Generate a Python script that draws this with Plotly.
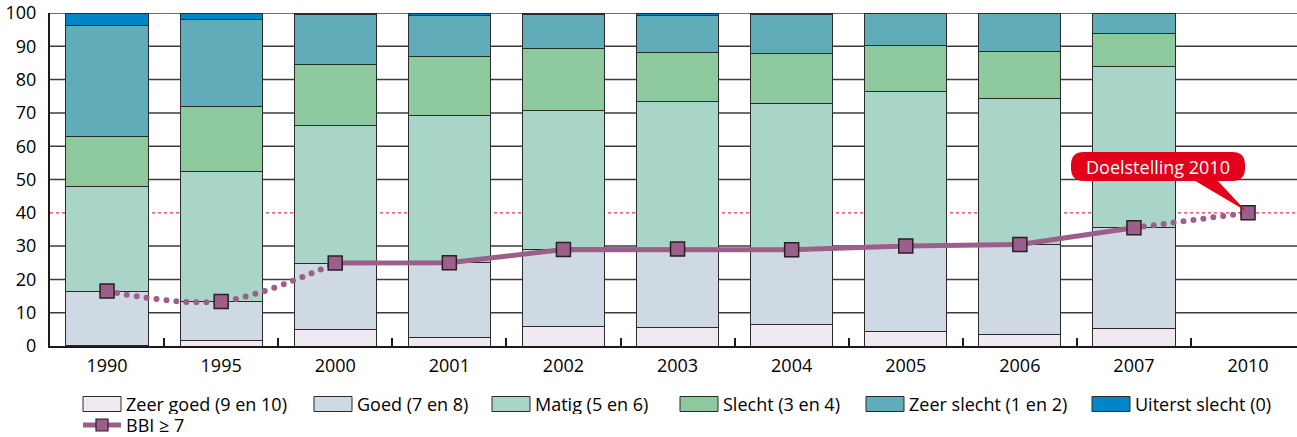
import plotly.graph_objects as go

# ---------------- data ----------------
years = ["1990", "1995", "2000", "2001", "2002", "2003", "2004", "2005", "2006", "2007", "2010"]
zeer_goed = [0.3, 1.7, 4.9, 2.7, 5.8, 5.5, 6.5, 4.4, 3.4, 5.2, None]
goed = [16.2, 11.7, 20.0, 22.3, 23.2, 23.6, 22.3, 25.8, 27.1, 30.3, None]
matig = [31.5, 39.1, 41.4, 44.1, 41.8, 44.2, 44.0, 46.2, 43.8, 48.3, None]
slecht = [14.8, 19.4, 18.1, 17.7, 18.6, 14.9, 15.0, 13.8, 14.1, 9.9, None]
zeer_slecht = [33.3, 26.0, 15.2, 12.4, 10.2, 11.0, 11.9, 9.8, 11.4, 6.3, None]
uiterst_slecht = [3.9, 2.1, 0.4, 0.8, 0.4, 0.8, 0.3, 0.0, 0.2, 0.0, None]
bbi = [16.5, 13.4, 24.9, 25.0, 29.0, 29.1, 28.9, 30.0, 30.5, 35.5, 40.0]
doel_2010 = 40
y_ticks = [0, 10, 20, 30, 40, 50, 60, 70, 80, 90, 100]

series_names = ["Zeer goed (9 en 10)", "Goed (7 en 8)", "Matig (5 en 6)",
                "Slecht (3 en 4)", "Zeer slecht (1 en 2)", "Uiterst slecht (0)"]
series_values = [zeer_goed, goed, matig, slecht, zeer_slecht, uiterst_slecht]
series_colors = ["#f1e9f2", "#cfd9e3", "#a8d5c7", "#8ec99e", "#60adb9", "#0086c6"]
bbi_name = "BBI \u2265 7"
doel_text = "Doelstelling 2010"
bbi_color = "#9b5f8a"
FONT = "Open Sans"

fig = go.Figure()
for name, vals, col in zip(series_names, series_values, series_colors):
    fig.add_trace(go.Bar(x=years, y=vals, name=name, marker_color=col,
                         marker_line=dict(color="#2a2a2a", width=1),
                         width=0.72, showlegend=False))

dot_dash = "0px,10px"
# dotted part 1990-2000
fig.add_trace(go.Scatter(x=years[0:3], y=bbi[0:3], mode="lines",
                         line=dict(color=bbi_color, width=6, dash=dot_dash, shape="spline"),
                         showlegend=False))
# solid part 2000-2007
fig.add_trace(go.Scatter(x=years[2:10], y=bbi[2:10], mode="lines",
                         line=dict(color=bbi_color, width=5),
                         showlegend=False))
# dotted part 2007-2010
fig.add_trace(go.Scatter(x=years[9:11], y=bbi[9:11], mode="lines",
                         line=dict(color=bbi_color, width=6, dash=dot_dash, shape="spline"),
                         showlegend=False))
# markers
fig.add_trace(go.Scatter(x=years, y=bbi, mode="markers", name=bbi_name,
                         marker=dict(symbol="square", size=14, color=bbi_color,
                                     line=dict(color="#2b1f28", width=1.5)),
                         showlegend=False))

# plot-area geometry in pixels
W, H = 1297, 437
PL, PR, PT, PB = 50, 1297, 13, 346


def px(x):
    return (x - PL) / (PR - PL)


def py(y):
    return (PB - y) / (PB - PT)


shapes = []
# horizontal grid lines (the goal line replaces the one at 40)
for v in y_ticks[1:]:
    if v == doel_2010:
        continue
    shapes.append(dict(type="line", xref="paper", yref="y", x0=0, x1=1, y0=v, y1=v,
                       line=dict(color="#3c3c3c", width=1.5), layer="below"))
shapes.append(dict(type="line", xref="paper", yref="y", x0=0, x1=1, y0=doel_2010, y1=doel_2010,
                   line=dict(color="#e8344e", width=1.2, dash="dot"), layer="below"))

# callout "Doelstelling 2010" (rounded box + pointer)
bx0, bx1, by0, by1, r = 1071, 1245, 152, 181, 13
box_path = (f"M {px(bx0 + r)},{py(by0)} L {px(bx1 - r)},{py(by0)} "
            f"Q {px(bx1)},{py(by0)} {px(bx1)},{py(by0 + r)} "
            f"L {px(bx1)},{py(by1 - r)} Q {px(bx1)},{py(by1)} {px(bx1 - r)},{py(by1)} "
            f"L {px(bx0 + r)},{py(by1)} Q {px(bx0)},{py(by1)} {px(bx0)},{py(by1 - r)} "
            f"L {px(bx0)},{py(by0 + r)} Q {px(bx0)},{py(by0)} {px(bx0 + r)},{py(by0)} Z")
shapes.append(dict(type="path", xref="paper", yref="paper", path=box_path,
                   fillcolor="#e2001a", line=dict(width=0), layer="above"))
ptr_path = (f"M {px(1192)},{py(by1 - 2)} L {px(1216)},{py(by1 - 2)} "
            f"L {px(1246)},{py(211)} Z")
shapes.append(dict(type="path", xref="paper", yref="paper", path=ptr_path,
                   fillcolor="#e2001a", line=dict(width=0), layer="above"))

annotations = [
    dict(xref="paper", yref="paper", x=px((bx0 + bx1) / 2), y=py((by0 + by1) / 2),
         xanchor="center", yanchor="middle", text=doel_text, showarrow=False,
         font=dict(color="white", size=18, family=FONT)),
]

# manual legend
leg_x = [83, 314, 492, 680, 866, 1092]
row1_y = 404
for lx, name, col in zip(leg_x, series_names, series_colors):
    shapes.append(dict(type="rect", xref="paper", yref="paper",
                       x0=px(lx), x1=px(lx + 38), y0=py(row1_y - 7.5), y1=py(row1_y + 7.5),
                       fillcolor=col, line=dict(color="#2a2a2a", width=1)))
    annotations.append(dict(xref="paper", yref="paper", x=px(lx + 42), y=py(row1_y),
                            xanchor="left", yanchor="middle", text=name, showarrow=False,
                            borderpad=0, height=20,
                            font=dict(size=18, family=FONT, color="black")))
row2_y = 425
shapes.append(dict(type="line", xref="paper", yref="paper", x0=px(83), x1=px(121),
                   y0=py(row2_y), y1=py(row2_y), line=dict(color=bbi_color, width=5)))
shapes.append(dict(type="rect", xref="paper", yref="paper", x0=px(96), x1=px(108),
                   y0=py(row2_y - 6), y1=py(row2_y + 6), fillcolor=bbi_color,
                   line=dict(color="#2b1f28", width=1.2)))
annotations.append(dict(xref="paper", yref="paper", x=px(125), y=py(row2_y),
                        xanchor="left", yanchor="middle", text=bbi_name, showarrow=False,
                        borderpad=0, height=20,
                        font=dict(size=18, family=FONT, color="black")))

fig.update_layout(
    template="none",
    width=W, height=H,
    margin=dict(l=PL, r=W - PR, t=PT, b=H - PB, autoexpand=False),
    barmode="stack",
    plot_bgcolor="white", paper_bgcolor="white",
    font=dict(family=FONT, size=18, color="black"),
    showlegend=False,
    shapes=shapes, annotations=annotations,
)
fig.update_xaxes(type="category", range=[-0.5, -0.5 + (PR - PL) / 114.1],
                 showgrid=False, showline=True, linecolor="#1a1a1a", linewidth=2,
                 ticks="inside", tickson="boundaries", ticklen=8, tickwidth=1.5,
                 tickcolor="#1a1a1a", tickfont=dict(size=18, family=FONT),
                 ticklabelstandoff=2, automargin=False)
fig.update_yaxes(range=[0, 100], tickvals=y_ticks, showgrid=False,
                 showline=True, linecolor="#1a1a1a", linewidth=2,
                 zeroline=False, ticks="", tickfont=dict(size=18, family=FONT),
                 ticklabelstandoff=8, automargin=False)

post = """
document.body.style.margin='0';
var s=document.createElement('style');
s.innerHTML='.scatterlayer .js-line{stroke-linecap:round;}';
document.head.appendChild(s);
"""
fig.write_html("out.html", post_script=post, config={"displayModeBar": False})
